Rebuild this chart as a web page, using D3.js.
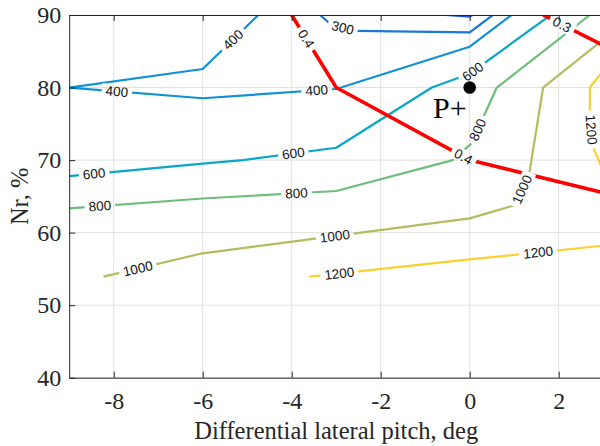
<!DOCTYPE html>
<html>
<head>
<meta charset="utf-8">
<script src="https://cdn.jsdelivr.net/npm/d3@7"></script>
<style>
  body { margin: 0; background: #fff; }
  svg { display: block; }
  .axis text { font-family: "Liberation Serif", "Times New Roman", serif; font-size: 24px; }
</style>
</head>
<body>
<svg id="chart" width="600" height="446"></svg>
<script>
// tick values
const xTicks = [-8, -6, -4, -2, 0, 2];
const yTicks = [40, 50, 60, 70, 80, 90];

// contour polylines, [pitch, Nr]
const c200 = [[-0.54, 90], [0, 89.77], [0.06, 90]];
const c300 = [[-3.36, 90], [-3.11, 88.62], [-2.55, 87.8], [0, 87.6], [0.52, 90]];
const c400 = [[-4.75, 90], [-6, 82.56], [-9, 80], [-6, 78.52], [-3, 79.8], [0, 85.63], [0.94, 90]];
const c600 = [[-9, 67.8], [-6, 69.5], [-5.1, 70], [-3, 71.7], [-0.85, 80], [0, 81.9], [1.82, 90]];
const c800 = [[-9, 63.35], [-6, 64.7], [-3, 65.74], [-0.38, 70], [0.04, 72.3], [0.31, 75.98], [0.61, 80], [2.7, 90]];
const c1000 = [[-8.23, 53.93], [-6, 57.15], [0, 61.97], [1.02, 63.8], [1.34, 68.2], [1.65, 80], [3, 86.6]];
const c1200a = [[-3.6, 53.93], [0, 56.3], [3, 58.2]];
const c1200b = [[3, 82.3], [2.7, 80], [2.7, 76.7], [2.76, 72], [3, 68.5]];

// ratio contours (red)
const r04 = [[-4, 90], [-3, 80], [0, 70], [3, 65.5]];
const r03 = [[1.65, 90], [3, 85.8]];

// where the inline labels sit
const lab300 = [[-2.87, 87.8]];
const lab400 = [[-5.24, 86.1], [-7.93, 79.29], [-3.44, 79.6]];
const lab600 = [[-8.44, 68.04], [-3.96, 70.8], [0.07, 82.2]];
const lab800 = [[-8.31, 63.57], [-3.89, 65.19], [0.19, 74.15]];
const lab1000 = [[-7.46, 55.08], [-3.03, 59.53], [1.2, 65.88]];
const lab1200a = [[-2.93, 54.39], [1.54, 57.15]];
const lab1200b = [[2.73, 74.2]];
const labR04 = [[-3.72, 86.55], [-0.14, 70.47]];
const labR03 = [[2.07, 88.6]];

const pointP = [0, 80];

const contours = [
  { text: '200', pts: c200, labels: [], color: '#2456d3', w: 2.2 },
  { text: '300', pts: c300, labels: lab300, color: '#1b77da', w: 2.2 },
  { text: '400', pts: c400, labels: lab400, color: '#1290d5', w: 2.2 },
  { text: '600', pts: c600, labels: lab600, color: '#0ba6c7', w: 2.2 },
  { text: '800', pts: c800, labels: lab800, color: '#6dbe7c', w: 2.2 },
  { text: '1000', pts: c1000, labels: lab1000, color: '#b4bc5c', w: 2.2 },
  { text: '1200', pts: c1200a, labels: lab1200a, color: '#f8d12e', w: 2.2 },
  { text: '1200', pts: c1200b, labels: lab1200b, color: '#f8d12e', w: 2.2 },
  { text: '0.4', pts: r04, labels: labR04, color: '#ff0000', w: 3.6 },
  { text: '0.3', pts: r03, labels: labR03, color: '#ff0000', w: 3.6 }
];

const svg = d3.select('#chart');
const plotLeft = 69.2, plotRight = 603.2, plotTop = 15, plotBottom = 377.7;

const x = d3.scaleLinear().domain([-9, 3]).range([plotLeft, plotRight]);
const y = d3.scaleLinear().domain([40, 90]).range([plotBottom, plotTop]);

// grid
const grid = svg.append('g').attr('stroke', '#e1e1e1').attr('stroke-width', 1);
grid.selectAll('.gx').data(xTicks).enter().append('line')
  .attr('x1', d => x(d)).attr('x2', d => x(d)).attr('y1', plotTop).attr('y2', plotBottom);
grid.selectAll('.gy').data(yTicks).enter().append('line')
  .attr('y1', d => y(d)).attr('y2', d => y(d)).attr('x1', plotLeft).attr('x2', plotRight);

svg.append('clipPath').attr('id', 'plot')
  .append('rect').attr('x', plotLeft).attr('y', plotTop)
  .attr('width', plotRight - plotLeft).attr('height', plotBottom - plotTop);

// find a label's spot on its line and the line's angle there
function placeLabel(pts, p) {
  const px = pts.map(d => [x(d[0]), y(d[1])]);
  const q = [x(p[0]), y(p[1])];
  let best = null;
  for (let i = 0; i < px.length - 1; i++) {
    const a = px[i], b = px[i + 1];
    const dx = b[0] - a[0], dy = b[1] - a[1];
    let t = ((q[0] - a[0]) * dx + (q[1] - a[1]) * dy) / (dx * dx + dy * dy);
    t = Math.max(0, Math.min(1, t));
    const cx = a[0] + t * dx, cy = a[1] + t * dy;
    const dist = Math.hypot(q[0] - cx, q[1] - cy);
    if (!best || dist < best.dist) {
      let ang = Math.atan2(dy, dx) * 180 / Math.PI;
      if (ang > 90) ang -= 180;
      if (ang <= -90) ang += 180;
      best = { dist: dist, x: cx, y: cy, ang: ang };
    }
  }
  return best;
}

const labelData = [];
contours.forEach(c => {
  c.labels.forEach(p => {
    const s = placeLabel(c.pts, p);
    labelData.push({ text: c.text, x: s.x, y: s.y, ang: s.ang });
  });
});

// labels first so their width can be measured for the gaps
const labelG = svg.append('g').attr('clip-path', 'url(#plot)');
const labelText = labelG.selectAll('text').data(labelData).enter().append('text')
  .attr('transform', d => `translate(${d.x},${d.y}) rotate(${d.ang})`)
  .attr('text-anchor', 'middle')
  .attr('dy', '0.35em')
  .style('font-family', '"Liberation Sans", Arial, sans-serif')
  .style('font-size', '13.5px')
  .attr('fill', '#111')
  .text(d => d.text);
labelText.each(function(d) { d.len = this.getComputedTextLength(); });

const mask = svg.append('mask').attr('id', 'gaps')
  .attr('maskUnits', 'userSpaceOnUse')
  .attr('x', 0).attr('y', 0).attr('width', 600).attr('height', 446);
mask.append('rect').attr('width', 600).attr('height', 446).attr('fill', '#fff');
mask.selectAll('.gap').data(labelData).enter().append('rect')
  .attr('transform', d => `translate(${d.x},${d.y}) rotate(${d.ang})`)
  .attr('x', d => -d.len / 2 - 4).attr('y', -7)
  .attr('width', d => d.len + 8).attr('height', 14)
  .attr('fill', '#000');

const line = d3.line().x(d => x(d[0])).y(d => y(d[1]));

svg.insert('g', () => labelG.node())
  .attr('clip-path', 'url(#plot)')
  .append('g').attr('mask', 'url(#gaps)')
  .selectAll('path').data(contours).enter().append('path')
  .attr('d', d => line(d.pts))
  .attr('fill', 'none')
  .attr('stroke', d => d.color)
  .attr('stroke-width', d => d.w)
  .attr('stroke-linejoin', 'round');

// design point
svg.append('circle')
  .attr('cx', x(pointP[0])).attr('cy', y(pointP[1])).attr('r', 6.3)
  .attr('fill', '#000');
svg.append('text')
  .attr('x', x(pointP[0]) - 3).attr('y', y(pointP[1]) + 30)
  .attr('text-anchor', 'end')
  .style('font-family', '"Liberation Serif", "Times New Roman", serif')
  .style('font-size', '30px')
  .attr('fill', '#000')
  .text('P+');

// axes
const fmt = d => String(d);
const axisFont = '"Liberation Serif", "Times New Roman", serif';

const xAxis = svg.append('g').attr('class', 'axis').attr('transform', `translate(0,${plotBottom})`)
  .call(d3.axisBottom(x).tickValues(xTicks).tickFormat(fmt).tickSizeInner(-6).tickSizeOuter(0).tickPadding(14));
const xTop = svg.append('g').attr('class', 'axis').attr('transform', `translate(0,${plotTop})`)
  .call(d3.axisTop(x).tickValues(xTicks).tickFormat('').tickSizeInner(-6).tickSizeOuter(0));
const yAxis = svg.append('g').attr('class', 'axis').attr('transform', `translate(${plotLeft},0)`)
  .call(d3.axisLeft(y).tickValues(yTicks).tickFormat(fmt).tickSizeInner(-6).tickSizeOuter(0).tickPadding(8));

[xAxis, xTop, yAxis].forEach(g => {
  g.attr('font-family', axisFont).attr('font-size', 24);
  g.select('.domain').attr('stroke', '#262626').attr('stroke-width', 1);
  g.selectAll('.tick line').attr('stroke', '#262626');
  g.selectAll('.tick text').attr('fill', '#262626');
});

svg.append('text')
  .attr('x', (plotLeft + plotRight) / 2).attr('y', 439)
  .attr('text-anchor', 'middle')
  .style('font-family', axisFont)
  .style('font-size', '24.5px')
  .attr('fill', '#262626')
  .text('Differential lateral pitch, deg');

svg.append('text')
  .attr('transform', `translate(28,${(plotTop + plotBottom) / 2}) rotate(-90)`)
  .attr('text-anchor', 'middle')
  .style('font-family', axisFont)
  .style('font-size', '24.5px')
  .attr('fill', '#262626')
  .text('Nr, %');
</script>
</body>
</html>
